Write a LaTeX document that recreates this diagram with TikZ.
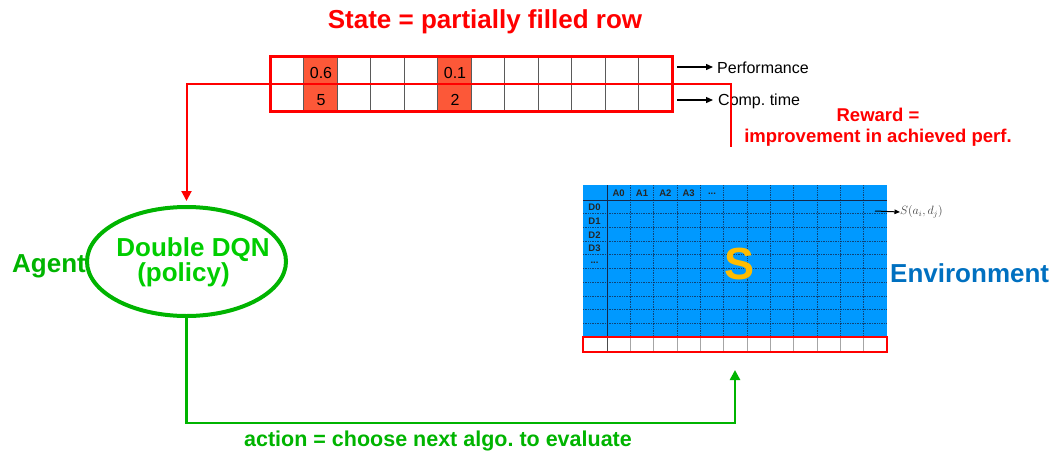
\documentclass[tikz,border=0pt]{standalone}
\usepackage{fontspec}
\setmainfont{Liberation Sans}
\usetikzlibrary{arrows.meta,shapes.geometric}
\frenchspacing

\definecolor{statered}{RGB}{255,0,0}
\definecolor{cellfill}{RGB}{252,88,56}
\definecolor{agentgreen}{RGB}{0,180,0}
\definecolor{dqngreen}{RGB}{0,205,0}
\definecolor{envblue}{RGB}{0,153,255}
\definecolor{envtext}{RGB}{0,112,192}
\definecolor{sgold}{RGB}{255,188,0}
\definecolor{envgrid}{RGB}{20,40,75}
\definecolor{cellline}{RGB}{90,90,90}

\tikzset{
  bigtxt/.style={font=\fontsize{26}{30}\selectfont\bfseries, inner sep=0pt},
  midtxt/.style={font=\fontsize{18.5}{21}\selectfont\bfseries, inner sep=0pt},
  acttxt/.style={font=\fontsize{21.5}{25}\selectfont\bfseries, inner sep=0pt},
  sidetxt/.style={font=\fontsize{16}{19}\selectfont, inner sep=0pt},
  cellnum/.style={font=\fontsize{16}{19}\selectfont, inner sep=0pt},
  hdrtxt/.style={font=\fontsize{9.5}{11}\selectfont\bfseries, inner sep=0pt, text=black!85},
  redlink/.style={draw=statered, line width=2pt},
  greenlink/.style={draw=agentgreen, line width=2.5pt},
  bigtip/.style={-{Triangle[width=10pt,length=10pt]}},
  smalltip/.style={-{Triangle[width=6pt,length=7pt]}},
  gridsolid/.style={draw=envgrid, line width=0.9pt},
  griddot/.style={draw=envgrid, draw opacity=0.75, line width=0.7pt, densely dotted},
}

\begin{document}
\begin{tikzpicture}[x=1pt,y=-1pt]
\useasboundingbox (0,0) rectangle (1050,453);

% ---- title ----
\node[bigtxt, text=statered, anchor=base] (title) at (485,28) {State = partially filled row};

% ---- state row: two rows of twelve cells ----
\foreach \c in {1,5}
  \fill[cellfill] ({270+\c*33.5},56.5) rectangle ++(33.5,55);
\foreach \c in {1,...,11}
  \draw[cellline, line width=0.8pt] ({270+\c*33.5},56.5) -- ++(0,55);
\node[draw=statered, line width=3pt, minimum width=402pt, minimum height=55pt,
      inner sep=0pt] (staterow) at (471,84) {};
\draw[statered, line width=2.5pt] (staterow.west) -- (staterow.east);

\node[cellnum] (perfA) at (321,72.5) {0.6};
\node[cellnum] (perfB) at (455,72.5) {0.1};
\node[cellnum] (timeA) at (321,100) {5};
\node[cellnum] (timeB) at (455,100) {2};

% ---- row meanings ----
\node[sidetxt, anchor=base west] (perf) at (717,73) {Performance};
\node[sidetxt, anchor=base west] (comp) at (718,105) {Comp. time};
\coordinate (perfstart) at (677,67);
\coordinate (compstart) at (677,100);
\draw[line width=1.3pt, smalltip, shorten >=4pt] (perfstart) -- (perfstart -| perf.west);
\draw[line width=1.3pt, smalltip, shorten >=5pt] (compstart) -- (compstart -| comp.west);

% ---- reward ----
\coordinate (rewardend) at (731,147);
\draw[redlink] (staterow.east) -| (rewardend);
\node[midtxt, text=statered, align=center, anchor=base] (reward) at (878,142)
  {Reward =\\improvement in achieved perf.};

% ---- agent ----
\node[ellipse, draw=agentgreen, line width=4pt, minimum width=199pt,
      minimum height=109pt, inner sep=0pt] (dqn) at (186.5,261.5) {};
\node[bigtxt, text=dqngreen, anchor=base] (dqnname) at (193,256) {Double DQN};
\node[bigtxt, text=dqngreen, anchor=base] (dqnpolicy) at (183.5,281) {(policy)};
\node[bigtxt, text=agentgreen, anchor=base west] (agent) at (12,272) {Agent};

\draw[redlink, bigtip, shorten >=4pt] (staterow.west) -| (dqn.north);

% ---- environment matrix ----
\node[fill=envblue, minimum width=304pt, minimum height=152pt, inner sep=0pt]
  (env) at (735,261) {};
\foreach \k in {1,...,11}
  \draw[griddot] ({607+\k*23.333},185) -- ({607+\k*23.333},337);
\foreach \k in {1,...,9}
  \draw[griddot] (583,{200+\k*13.7}) -- (887,{200+\k*13.7});
\draw[gridsolid] (607,185) -- (607,337);
\draw[gridsolid] (583,200) -- (887,200);

\foreach \i in {0,1,2,3}
  \node[hdrtxt] (colhead\i) at ({618.7+\i*23.333},193.5) {A\i};
\node[hdrtxt] (colheadmore) at ({618.7+4*23.333},194) {...};
\foreach \i in {0,1,2,3}
  \node[hdrtxt] (rowhead\i) at (594.5,{207+\i*13.9}) {D\i};
\node[hdrtxt] (rowheadmore) at (594.5,{207.5+4*13.9}) {...};

\node[font=\fontsize{45}{50}\selectfont\bfseries, text=sgold, inner sep=0pt] (smat) at (740,264) {S};

% next row to be filled
\node[fill=white, minimum width=304pt, minimum height=15pt, inner sep=0pt]
  (nextrow) at (735,344.5) {};
\draw[gridsolid, draw=black!70] (607,337) -- (607,352);
\foreach \k in {1,...,11}
  \draw[black!35, line width=0.7pt] ({607+\k*23.333},337) -- ({607+\k*23.333},352);
\draw[statered, line width=1.6pt] (nextrow.north west) rectangle (nextrow.south east);

% entry label
\coordinate (sstart) at (875,211);
\node[font=\fontsize{12}{14}\selectfont, text=black!75, anchor=west, inner sep=0pt]
  (slabel) at (900,212) {$S(a_i,d_j)$};
\draw[line width=1pt, -{Triangle[width=4.5pt,length=5.5pt]}] (sstart) -- (slabel.west);

\node[bigtxt, text=envtext, anchor=base west] (envlabel) at (890,282) {Environment};

% ---- action ----
\coordinate (acttip) at (735,370);
\coordinate (actcorner) at (735,423);
\draw[greenlink, bigtip] (dqn.south) |- (actcorner) -- (acttip);
\node[acttxt, text=agentgreen, anchor=base] (action) at (438,446)
  {action = choose next algo. to evaluate};
\end{tikzpicture}
\end{document}
